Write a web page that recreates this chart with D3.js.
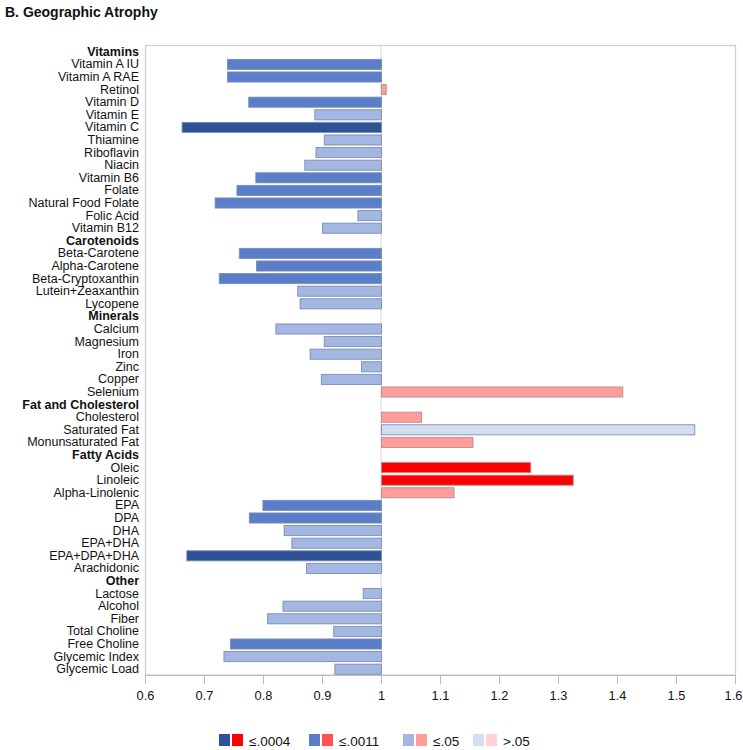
<!DOCTYPE html>
<html><head><meta charset="utf-8">
<script src="https://cdn.jsdelivr.net/npm/d3@7/dist/d3.min.js"></script>
<style>body{margin:0;background:#fff;font-family:"Liberation Sans",Arial,sans-serif;}</style>
</head><body><svg id="c" width="743" height="750"></svg>
<script>
const labels = ["Vitamins","Vitamin A IU","Vitamin A RAE","Retinol","Vitamin D","Vitamin E","Vitamin C","Thiamine","Riboflavin","Niacin","Vitamin B6","Folate","Natural Food Folate","Folic Acid","Vitamin B12",
"Carotenoids","Beta-Carotene","Alpha-Carotene","Beta-Cryptoxanthin","Lutein+Zeaxanthin","Lycopene",
"Minerals","Calcium","Magnesium","Iron","Zinc","Copper","Selenium",
"Fat and Cholesterol","Cholesterol","Saturated Fat","Monunsaturated Fat",
"Fatty Acids","Oleic","Linoleic","Alpha-Linolenic","EPA","DPA","DHA","EPA+DHA","EPA+DPA+DHA","Arachidonic",
"Other","Lactose","Alcohol","Fiber","Total Choline","Free Choline","Glycemic Index","Glycemic Load"];
const headers = ["Vitamins","Carotenoids","Minerals","Fat and Cholesterol","Fatty Acids","Other"];
const values = [null,0.739,0.739,1.008,0.775,0.887,0.662,0.903,0.889,0.870,0.787,0.755,0.718,0.960,0.900,
null,0.759,0.788,0.725,0.858,0.862,
null,0.821,0.903,0.879,0.966,0.898,1.409,
null,1.068,1.531,1.155,
null,1.253,1.325,1.123,0.799,0.776,0.835,0.848,0.670,0.873,
null,0.969,0.833,0.807,0.919,0.744,0.733,0.921];
// significance level: 0 = ≤.0004, 1 = ≤.0011, 2 = ≤.05, 3 = >.05 ; hue b = blue, r = red
const shade = [null,"b1","b1","r2","b1","b2","b0","b2","b2","b2","b1","b1","b1","b2","b2",
null,"b1","b1","b1","b2","b2",
null,"b2","b2","b2","b2","b2","r2",
null,"r2","b3","r2",
null,"r0","r0","r2","b1","b1","b2","b2","b0","b2",
null,"b2","b2","b2","b2","b1","b2","b2"];
const legendLabels = ["≤.0004","≤.0011","≤.05",">.05"];
const xTicks = [0.6,0.7,0.8,0.9,1,1.1,1.2,1.3,1.4,1.5,1.6];
const palette = {b0:"#2F5296",b1:"#5B7ECB",b2:"#A3B7E2",b3:"#D5DDF1",r0:"#FF0000",r1:"#FF5252",r2:"#FF9C9C",r3:"#FFD3D3"};

const svg = d3.select("#c");
const x = d3.scaleLinear().domain([0.6,1.6]).range([145,735]);
const y = d3.scaleBand().domain(labels).range([45,675]).paddingInner(0.2).paddingOuter(0.1);

svg.append("text").attr("x",5).attr("y",17).attr("font-size",14).attr("font-weight","bold")
  .attr("fill","#111").text("B. Geographic Atrophy");

// plot frame
svg.append("rect").attr("x",145.5).attr("y",45.5).attr("width",590).attr("height",629.5)
  .attr("fill","none").attr("stroke","#cfcfcf").attr("stroke-width",1.3);

// reference line at 1
svg.append("line").attr("x1",x(1)).attr("x2",x(1)).attr("y1",45).attr("y2",675)
  .attr("stroke","#d6d6d6").attr("stroke-width",1);

const rows = labels.map((l,i)=>({label:l,value:values[i],shade:shade[i]}));

svg.append("g").selectAll("rect").data(rows.filter(d=>d.value!==null)).join("rect")
  .attr("x",d=>x(Math.min(d.value,1))+0.5)
  .attr("y",d=>y(d.label)+0.5)
  .attr("width",d=>Math.abs(x(d.value)-x(1)))
  .attr("height",y.bandwidth())
  .attr("fill",d=>palette[d.shade])
  .attr("stroke",d=>d.shade[0]==="b"?"#7d8db0":"#b09090")
  .attr("stroke-width",0.9);

// category labels
svg.append("g").selectAll("text").data(rows).join("text")
  .attr("x",139).attr("y",d=>y(d.label)+y.bandwidth()/2)
  .attr("dy","0.36em").attr("text-anchor","end")
  .attr("font-size",12.5)
  .attr("font-weight",d=>headers.includes(d.label)?"bold":"normal")
  .attr("fill","#111").text(d=>d.label);

// x axis
const ax = svg.append("g").attr("transform","translate(0,675)")
  .call(d3.axisBottom(x).tickValues(xTicks).tickSize(9).tickPadding(7).tickFormat(d3.format("")));
ax.select(".domain").attr("stroke","#bdbdbd");
ax.selectAll(".tick line").attr("stroke","#bdbdbd");
ax.selectAll(".tick text").attr("font-size",12.8).attr("fill","#111").attr("font-family","Liberation Sans, Arial, sans-serif")
  .attr("dx",d=>d===1.6?"-2":"0");

// legend
const lx = [219,309,403,473];
const lg = svg.append("g");
legendLabels.forEach((t,i)=>{
  lg.append("rect").attr("x",lx[i]).attr("y",734).attr("width",11).attr("height",12).attr("fill",palette["b"+i]);
  lg.append("rect").attr("x",lx[i]+13).attr("y",734).attr("width",11).attr("height",12).attr("fill",palette["r"+i]);
  lg.append("text").attr("x",lx[i]+30).attr("y",745.5).attr("font-size",13.5).attr("fill","#111").text(t);
});
</script></body></html>
